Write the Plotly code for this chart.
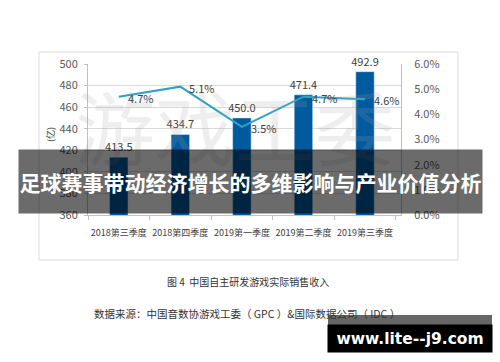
import plotly.graph_objects as go

categories = ["2018第三季度", "2018第四季度", "2019第一季度", "2019第二季度", "2019第三季度"]
revenue = [413.5, 434.7, 450.0, 471.4, 492.9]
growth = [0.047, 0.051, 0.035, 0.047, 0.046]
revenue_labels = ["413.5", "434.7", "450.0", "471.4", "492.9"]
growth_labels = ["4.7%", "5.1%", "3.5%", "4.7%", "4.6%"]

W, H = 500, 362
L, R, T, B = 88, 401, 64, 215  # plot area in pixels


def px(x):
    return (x - L) / (R - L)


def py(y):
    return (B - y) / (B - T)


CJK = "Noto Sans CJK SC"
TXT = "#404040"

fig = go.Figure()
fig.add_trace(go.Bar(
    x=categories, y=revenue, marker_color="#005a9e", width=0.3,
    text=revenue_labels, textposition="outside", cliponaxis=False, constraintext="none",
    textfont=dict(family=CJK, size=11, color=TXT), yaxis="y",
))
fig.add_trace(go.Scatter(
    x=categories, y=growth, mode="lines", yaxis="y2",
    line=dict(color="#2ba3c6", width=2),
))

shapes = [
    dict(type="rect", xref="paper", yref="paper", x0=px(39), x1=px(458), y0=py(260), y1=py(52),
         line=dict(color="#dcdcdc", width=1), fillcolor="rgba(0,0,0,0)", layer="below"),
    dict(type="rect", xref="paper", yref="paper", x0=px(328), x1=px(492), y0=py(325), y1=py(315),
         line=dict(width=0), fillcolor="rgba(0,0,0,0.6)", layer="above"),
]


def pann(text, x, y, **kw):
    d = dict(text=text, x=px(x), y=py(y), xref="paper", yref="paper", showarrow=False,
             xanchor="center", yanchor="middle")
    d.update(kw)
    return d


annotations = [
    pann("游戏工委", 235, 124, font=dict(family=CJK, size=80, color="rgba(160,160,160,0.18)")),
]
for c, g, lab in zip(categories, growth, growth_labels):
    annotations.append(dict(text=lab, x=c, y=g, xref="x", yref="y2", showarrow=False,
                            xanchor="left", yanchor="middle", xshift=7, yshift=-1,
                            font=dict(family=CJK, size=11, color=TXT)))
annotations += [
    pann("(亿)", 50, 135, textangle=-90, font=dict(family=CJK, size=9, color=TXT)),
    pann("图 4  中国自主研发游戏实际销售收入", 248, 281, font=dict(family=CJK, size=10, color="#333333")),
    pann("数据来源：中国音数协游戏工委（ GPC ）&国际数据公司（ IDC ）", 247, 313,
         font=dict(family=CJK, size=10.5, color="#333333")),
    pann("<b>足球赛事带动经济增长的多维影响与产业价值分析</b>", 250.5, 181.5,
         width=463, height=63, borderpad=0, bgcolor="rgba(0,0,0,0.58)",
         font=dict(family=CJK, size=21, color="#ffffff")),
    pann("<b>www.lite--j9.com</b>", 410, 338.5, width=164, height=27, borderpad=0, bgcolor="#000000",
         font=dict(family="DejaVu Sans", size=15.5, color="#ffffff")),
]

fig.update_layout(
    width=W, height=H,
    margin=dict(l=L, r=W - R, t=T, b=H - B, pad=0),
    paper_bgcolor="white", plot_bgcolor="white",
    showlegend=False, bargap=0.7,
    font=dict(family=CJK, size=11, color=TXT),
    xaxis=dict(
        showline=True, linecolor="#bfbfbf", linewidth=1, tickangle=0,
        ticks="outside", tickson="boundaries", ticklen=4, tickcolor="#bfbfbf",
        tickfont=dict(family=CJK, size=9, color=TXT), ticklabelstandoff=9,
        showgrid=False,
    ),
    yaxis=dict(
        range=[360, 500], dtick=20, showgrid=True, gridcolor="#d9d9d9", gridwidth=1,
        showline=True, linecolor="#bfbfbf", linewidth=1,
        ticks="outside", ticklen=3, tickcolor="#bfbfbf",
        tickfont=dict(family=CJK, size=11, color="#595959"), ticklabelstandoff=4,
        zeroline=False,
    ),
    yaxis2=dict(
        range=[0, 0.06], dtick=0.01, tickformat=".1%", overlaying="y", side="right",
        showgrid=False, showline=True, linecolor="#bfbfbf", linewidth=1, zeroline=False,
        ticks="", tickfont=dict(family=CJK, size=11, color="#595959"), ticklabelstandoff=10,
    ),
    shapes=shapes, annotations=annotations,
)

fig.write_html("out.html")
